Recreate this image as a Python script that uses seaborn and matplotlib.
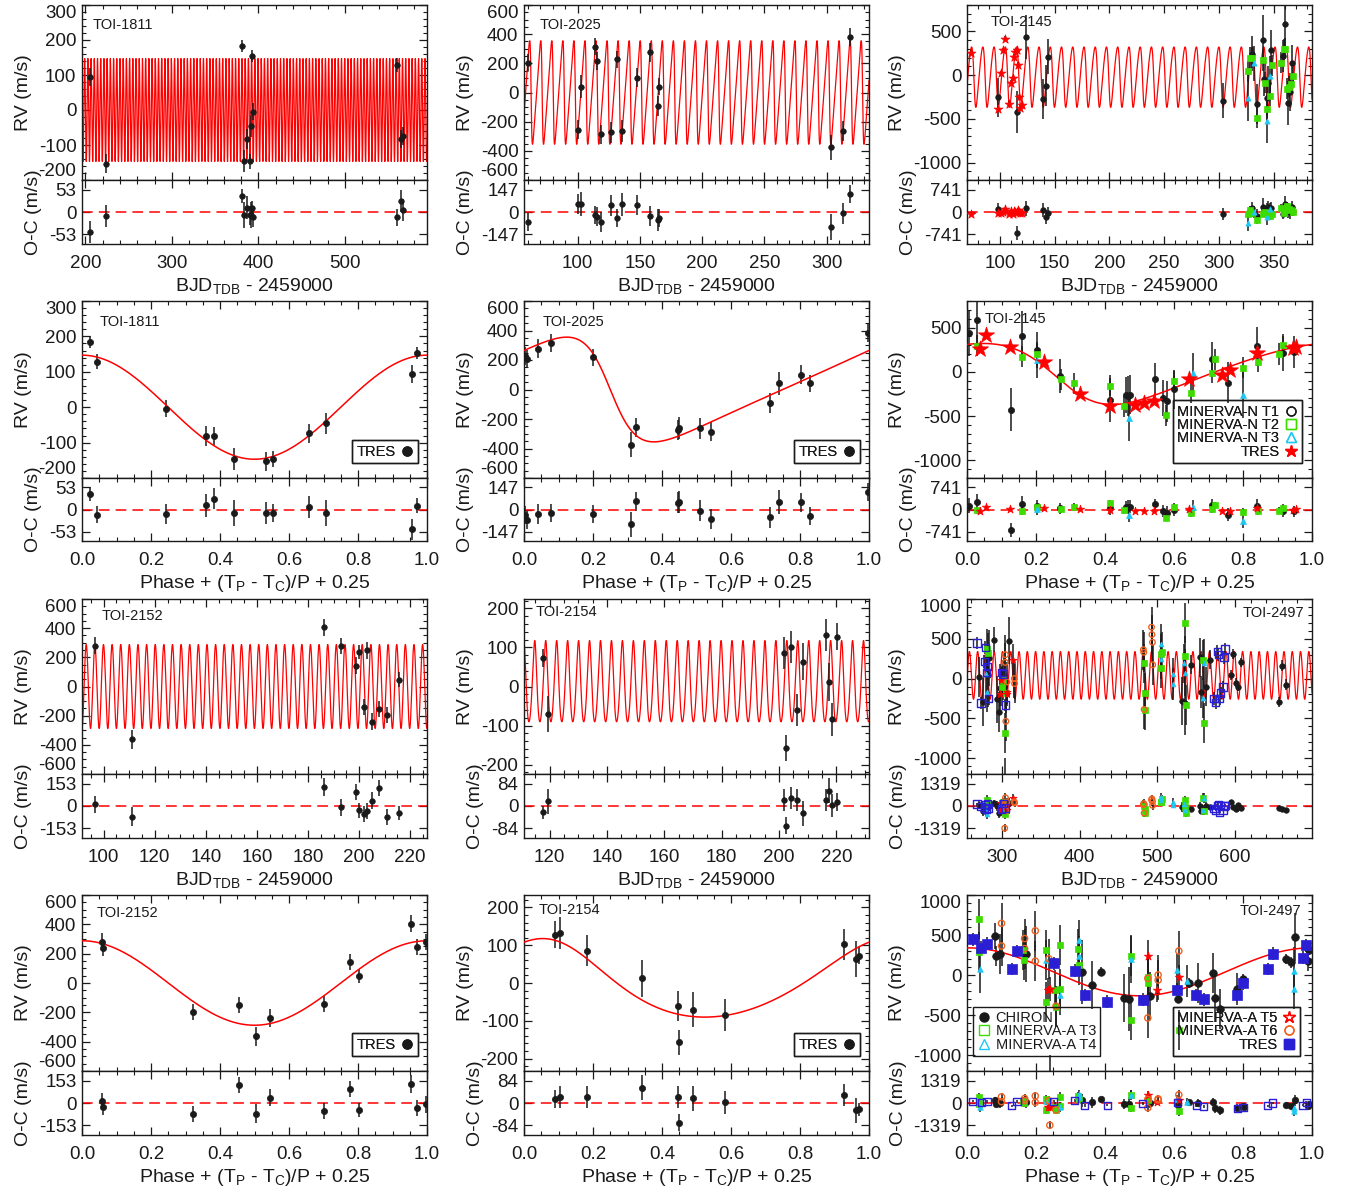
import numpy as np
import matplotlib
matplotlib.use("Agg")
import matplotlib.pyplot as plt
import seaborn as sns
from matplotlib.lines import Line2D
from matplotlib.ticker import AutoMinorLocator, NullLocator

# ------------------------------------------------------------------ data
# TOI-1811 (TRES)
toi1811_time = [205.8, 223.5, 381.5, 383.8, 386.9, 390.8, 391.9, 393.0, 394.2, 560.0, 565.0, 567.3]
toi1811_phase = [0.956, 0.533, 0.022, 0.442, 0.358, 0.553, 0.708, 0.970, 0.243, 0.044, 0.382, 0.659]
toi1811_rv = [94, -153, 183, -145, -82, -147, -46, 154, -5, 129, -82, -74]
toi1811_err = [25, 26, 17, 31, 28, 22, 31, 17, 24, 20, 26, 26]

# TOI-2025 (TRES)
toi2025_time = [60.1, 100.5, 102.4, 114.2, 115.3, 118.7, 126.5, 131.6, 135.3, 147.7, 158.4, 164.8, 165.6, 303.5, 312.9, 318.7]
toi2025_phase = [0.008, 0.324, 0.739, 0.079, 0.199, 0.542, 0.445, 0.003, 0.449, 0.802, 0.041, 0.713, 0.829, 0.310, 0.509, 0.998]
toi2025_rv = [205, -256, 41, 315, 217, -285, -274, 228, -263, 101, 277, -91, 41, -375, -263, 382]
toi2025_err = [60, 65, 80, 60, 60, 65, 70, 60, 75, 65, 65, 70, 60, 85, 70, 60]

# TOI-2145 (MINERVA-N T1/T2/T3, TRES)
toi2145_t1_time = [124.3, 360.0, 115.2, 340.4, 330.4, 341.6, 363.0, 343.8, 139.5, 98.5, 344.5, 303.6, 334.7, 365.0, 366.9, 142.2, 347.7, 144.4, 358.4]
toi2145_t1_phase = [0.005, 0.030, 0.127, 0.160, 0.203, 0.269, 0.415, 0.460, 0.467, 0.473, 0.544, 0.568, 0.580, 0.600, 0.709, 0.756, 0.841, 0.915, 0.949]
toi2145_t1_rv = [434, 585, -426, 404, 245, -49, -321, -264, -275, -257, -87, -294, -332, -196, 140, -121, 290, 208, 219]
toi2145_t1_err = [250, 260, 240, 280, 200, 190, 250, 200, 230, 220, 190, 200, 230, 220, 200, 230, 220, 200, 180]

toi2145_t2_time = [359.0, 340.1, 328.0, 341.9, 364.4, 362.3, 343.5, 335.0, 365.5, 346.2, 367.5, 356.8, 326.7, 348.6, 330.4, 360.5]
toi2145_t2_phase = [0.030, 0.160, 0.203, 0.272, 0.311, 0.415, 0.454, 0.577, 0.600, 0.648, 0.711, 0.720, 0.800, 0.843, 0.903, 0.915]
toi2145_t2_rv = [294, 170, 196, -87, -132, -158, -389, -490, -106, -238, -11, 140, 45, 113, 200, 302]
toi2145_t2_err = [120, 120, 120, 120, 120, 120, 120, 120, 120, 120, 120, 120, 120, 120, 120, 120]

toi2145_t3_time = [331.6, 343.8, 346.2, 326.7]
toi2145_t3_phase = [0.203, 0.471, 0.656, 0.800]
toi2145_t3_rv = [132, -521, -8, -264]
toi2145_t3_err = [200, 260, 220, 260]

toi2145_tres_time = [73.6, 104.9, 103.3, 116.4, 117.3, 97.9, 118.5, 119.8, 108.5, 110.0, 111.6, 100.9, 112.5, 114.0, 115.2]
toi2145_tres_phase = [0.039, 0.056, 0.124, 0.223, 0.328, 0.415, 0.486, 0.514, 0.542, 0.644, 0.738, 0.763, 0.841, 0.944, 0.954]
toi2145_tres_rv = [257, 415, 283, 113, -253, -389, -377, -347, -332, -87, -38, 19, 208, 264, 283]
toi2145_tres_err = [30, 30, 30, 30, 30, 30, 30, 30, 30, 30, 30, 30, 30, 30, 30]

# TOI-2152 (TRES)
toi2152_time = [96.4, 111.2, 186.1, 193.0, 198.9, 199.9, 202.0, 203.0, 204.9, 207.8, 210.8, 215.8]
toi2152_phase = [0.058, 0.505, 0.955, 0.998, 0.777, 0.062, 0.700, 0.970, 0.544, 0.456, 0.322, 0.804]
toi2152_rv = [280, -362, 405, 278, 144, 236, -142, 247, -240, -152, -198, 47]
toi2152_err = [60, 65, 60, 55, 55, 50, 55, 55, 60, 55, 55, 50]

# TOI-2154 (TRES)
toi2154_time = [117.5, 119.5, 201.6, 202.5, 204.3, 206.3, 208.3, 216.5, 217.4, 218.4, 220.2]
toi2154_phase = [0.971, 0.489, 0.184, 0.449, 0.927, 0.445, 0.962, 0.103, 0.343, 0.582, 0.089]
toi2154_rv = [72, -71, 86, -157, 102, -60, 64, 132, 12, -84, 128]
toi2154_err = [23, 46, 41, 33, 41, 40, 47, 42, 48, 42, 35]

# TOI-2497 (CHIRON, MINERVA-A T3/T4/T5/T6, TRES)
toi2497_chiron_time = [289.7, 567.5, 554.6, 283.0, 281.6, 298.0, 594.5, 531.5, 535.7, 293.6, 656.6, 604.3, 563.2, 270.0, 275.0, 296.6, 556.0, 600.9, 665.2, 607.3, 660.9, 309.4, 543.9, 597.5]
toi2497_chiron_phase = [0.080, 0.085, 0.095, 0.171, 0.333, 0.362, 0.388, 0.454, 0.469, 0.529, 0.612, 0.644, 0.669, 0.713, 0.718, 0.734, 0.782, 0.799, 0.802, 0.926, 0.940, 0.950, 0.988, 0.992]
toi2497_chiron_rv = [490, 237, 266, 258, 42, -123, 42, -283, -304, -262, -296, -101, -101, 21, -291, -422, -169, -51, -80, 203, 160, 477, 173, 308]
toi2497_chiron_err = [160, 120, 250, 350, 400, 300, 60, 300, 400, 300, 60, 60, 250, 250, 300, 250, 200, 60, 70, 60, 70, 300, 120, 60]

toi2497_tres_time = [267.9, 577.3, 278.6, 280.3, 578.6, 281.6, 302.1, 282.9, 304.3, 273.0, 581.6, 573.0, 575.0, 580.0, 584.6, 299.6, 585.9, 277.3, 587.2]
toi2497_tres_phase = [0.017, 0.041, 0.058, 0.130, 0.145, 0.251, 0.312, 0.341, 0.406, 0.510, 0.609, 0.664, 0.686, 0.783, 0.800, 0.872, 0.886, 0.974, 0.984]
toi2497_tres_rv = [448, 342, 393, 76, 300, 148, 55, -249, -334, -308, -182, -249, -304, -249, -106, 76, 266, 215, 372]
toi2497_tres_err = [80, 80, 80, 80, 80, 80, 80, 80, 80, 80, 80, 80, 80, 80, 80, 80, 80, 80, 80]

toi2497_t3_time = [535.0, 535.5, 281.6, 483.0, 505.0, 537.0, 305.0, 483.5, 281.0, 484.0, 505.5, 505.2, 559.0, 559.7, 300.0, 301.0, 304.3]
toi2497_t3_phase = [0.036, 0.036, 0.162, 0.164, 0.230, 0.230, 0.256, 0.259, 0.270, 0.270, 0.321, 0.324, 0.474, 0.474, 0.525, 0.525, 0.615]
toi2497_t3_rv = [697, 287, 317, 190, 308, -334, -186, -397, 372, -177, 330, 131, 232, -558, -101, -21, -684]
toi2497_t3_err = [250, 250, 250, 250, 250, 250, 250, 250, 250, 250, 250, 250, 250, 250, 250, 250, 250]

toi2497_t4_time = [535.7, 534.5, 559.0, 504.5, 504.8, 560.0, 519.5, 519.8, 280.0, 281.0]
toi2497_t4_phase = [0.037, 0.230, 0.270, 0.324, 0.324, 0.474, 0.610, 0.638, 0.947, 0.947]
toi2497_t4_rv = [76, 190, -249, 435, 241, 199, 63, -72, 55, -169]
toi2497_t4_err = [300, 250, 250, 250, 250, 300, 200, 200, 300, 250]

toi2497_t5_time = [297.9, 307.0, 313.7, 306.0, 299.0]
toi2497_t5_phase = [0.234, 0.240, 0.524, 0.551, 0.614]
toi2497_t5_rv = [-190, -169, 232, -190, -21]
toi2497_t5_err = [150, 150, 200, 150, 150]

toi2497_t6_time = [492.5, 482.0, 493.7, 482.5, 493.0, 493.9, 304.3, 483.0, 306.4, 305.0, 315.9, 316.2, 304.5, 303.5]
toi2497_t6_phase = [0.100, 0.100, 0.167, 0.167, 0.198, 0.198, 0.237, 0.258, 0.524, 0.524, 0.554, 0.554, 0.614, 0.240]
toi2497_t6_rv = [646, 363, 456, 330, 553, 173, 203, -389, -42, -537, 0, -63, 300, -1250]
toi2497_t6_err = [250, 250, 250, 250, 250, 250, 250, 250, 250, 250, 250, 250, 250, 250]

# Keplerian orbit solutions: period [d], semi-amplitude [m/s], e, omega [deg],
# systemic offset [m/s], transit epoch [BJD_TDB - 2459000]
orbit_1811 = dict(P=3.7130, K=147.0, e=0.0, w=90.0, gamma=0.0, tc=200.0)
orbit_2025 = dict(P=8.872, K=355.0, e=0.40, w=90.0, gamma=0.0, tc=62.7)
orbit_2145 = dict(P=10.261, K=345.0, e=0.21, w=110.0, gamma=0.0, tc=76.3)
orbit_2152 = dict(P=3.3774, K=288.0, e=0.0, w=90.0, gamma=0.0, tc=94.0)
orbit_2154 = dict(P=3.8246, K=104.0, e=0.14, w=20.0, gamma=0.0, tc=115.5)
orbit_2497 = dict(P=10.656, K=300.0, e=0.0, w=90.0, gamma=40.0, tc=260.7)


# ------------------------------------------------------------------ model
def kepler_rv(x, orb):
    """RV at x = (t - Tc)/P + 0.25 (transit at x = 0.25)."""
    x = np.asarray(x, dtype=float)
    e, w = orb["e"], np.radians(orb["w"])
    nu_t = np.pi / 2 - w
    E_t = 2 * np.arctan(np.sqrt((1 - e) / (1 + e)) * np.tan(nu_t / 2))
    M_t = E_t - e * np.sin(E_t)
    M = M_t + 2 * np.pi * (x - 0.25)
    E = M + e * np.sin(M)
    for _ in range(40):
        E = E - (E - e * np.sin(E) - M) / (1 - e * np.cos(E))
    nu = 2 * np.arctan2(np.sqrt(1 + e) * np.sin(E / 2), np.sqrt(1 - e) * np.cos(E / 2))
    return orb["gamma"] + orb["K"] * (np.cos(nu + w) + e * np.cos(w))


# ------------------------------------------------------------------ style
sns.set_theme(style="ticks", rc={
    "axes.edgecolor": "k", "axes.linewidth": 1.0,
    "xtick.color": "k", "ytick.color": "k",
    "text.color": "k", "axes.labelcolor": "k",
    "figure.facecolor": "white", "axes.facecolor": "white",
})
plt.rcParams["font.family"] = ["Liberation Sans", "DejaVu Sans"]
plt.rcParams["mathtext.fontset"] = "custom"
plt.rcParams["mathtext.rm"] = "Liberation Sans"
plt.rcParams["mathtext.it"] = "Liberation Sans:italic"
plt.rcParams["mathtext.bf"] = "Liberation Sans:bold"

GREEN = "#3ddc00"
CYAN = "#1ec8f5"
BLUE = "#2b1fd6"
ORANGE = "#f2601e"
RED = "#ff0000"


def mk(marker, color, s, hollow=False):
    return dict(marker=marker, color=color, s=s, hollow=hollow)


def scatter(ax, x, y, st, z=4):
    if st["hollow"]:
        sns.scatterplot(x=x, y=y, ax=ax, marker=st["marker"], s=st["s"], color=st["color"],
                        facecolor="none", edgecolor=st["color"], linewidth=1.0,
                        legend=False, zorder=z)
    else:
        sns.scatterplot(x=x, y=y, ax=ax, marker=st["marker"], s=st["s"], color=st["color"],
                        edgecolor=st["color"], linewidth=0.5, legend=False, zorder=z)


def series(label, time, phase, rv, err, st_time, st_phase, st_ocp=None):
    return dict(label=label, time=np.array(time, float), phase=np.array(phase, float),
                rv=np.array(rv, float), err=np.array(err, float),
                st_time=st_time, st_phase=st_phase, st_ocp=st_ocp or st_phase)


BLACK_T = mk("o", "k", 16)
BLACK_P = mk("o", "k", 20)

tres_legend = dict(boxes=[dict(items=[("TRES", dict(marker="o", color="k", mfc="k", ms=6.5))],
                               loc="lower right", anchor=(-9, 15), markerfirst=False)])

targets = [
    dict(name="TOI-1811", orbit=orbit_1811,
         sets=[series("TRES", toi1811_time, toi1811_phase, toi1811_rv, toi1811_err, BLACK_T, BLACK_P)],
         tlim=(196, 595), tticks=[200, 300, 400, 500],
         rvlim=(-200, 300), rvlim_p=(-200, 300), rvticks=[-200, -100, 0, 100, 200, 300], octick=53,
         lab_t=(11, 20, "left"), lab_p=(18, 21, "left"), legend=tres_legend),
    dict(name="TOI-2025", orbit=orbit_2025,
         sets=[series("TRES", toi2025_time, toi2025_phase, toi2025_rv, toi2025_err, BLACK_T, BLACK_P)],
         tlim=(57, 334), tticks=[100, 150, 200, 250, 300],
         rvlim=(-600, 600), rvlim_p=(-600, 600), rvticks=[-600, -400, -200, 0, 200, 400, 600], octick=147,
         lab_t=(16, 20, "left"), lab_p=(19, 21, "left"), legend=tres_legend),
    dict(name="TOI-2145", orbit=orbit_2145,
         sets=[series("MINERVA-N T1", toi2145_t1_time, toi2145_t1_phase, toi2145_t1_rv, toi2145_t1_err,
                      mk("o", "k", 16), mk("o", "k", 20)),
               series("MINERVA-N T2", toi2145_t2_time, toi2145_t2_phase, toi2145_t2_rv, toi2145_t2_err,
                      mk("s", GREEN, 18), mk("s", GREEN, 24)),
               series("MINERVA-N T3", toi2145_t3_time, toi2145_t3_phase, toi2145_t3_rv, toi2145_t3_err,
                      mk("^", CYAN, 14), mk("^", CYAN, 18)),
               series("TRES", toi2145_tres_time, toi2145_tres_phase, toi2145_tres_rv, toi2145_tres_err,
                      mk("*", RED, 45), mk("*", RED, 150), mk("*", RED, 40))],
         tlim=(70, 385), tticks=[100, 150, 200, 250, 300, 350],
         rvlim=(-1200, 800), rvlim_p=(-1200, 800), rvticks=[-1000, -500, 0, 500], octick=741,
         lab_t=(24, 17, "left"), lab_p=(18, 18, "left"),
         legend=dict(boxes=[dict(items=[
             ("MINERVA-N T1", dict(marker="o", color="k", mfc="none", ms=6.5)),
             ("MINERVA-N T2", dict(marker="s", color=GREEN, mfc="none", ms=6.5)),
             ("MINERVA-N T3", dict(marker="^", color=CYAN, mfc="none", ms=6.5)),
             ("TRES", dict(marker="*", color=RED, mfc=RED, ms=9))],
             loc="lower right", anchor=(-10, 15), markerfirst=False)])),
    dict(name="TOI-2152", orbit=orbit_2152,
         sets=[series("TRES", toi2152_time, toi2152_phase, toi2152_rv, toi2152_err, BLACK_T, BLACK_P)],
         tlim=(91.5, 226.6), tticks=[100, 120, 140, 160, 180, 200, 220],
         rvlim=(-600, 600), rvlim_p=(-600, 600), rvticks=[-600, -400, -200, 0, 200, 400, 600], octick=153,
         lab_t=(20, 17, "left"), lab_p=(15, 18, "left"), legend=tres_legend),
    dict(name="TOI-2154", orbit=orbit_2154,
         sets=[series("TRES", toi2154_time, toi2154_phase, toi2154_rv, toi2154_err, BLACK_T, BLACK_P)],
         tlim=(111, 231.4), tticks=[120, 140, 160, 180, 200, 220],
         rvlim=(-224, 224), rvlim_p=(-233, 233), rvticks=[-200, -100, 0, 100, 200], octick=84,
         lab_t=(12, 13, "left"), lab_p=(15, 15, "left"), legend=tres_legend),
    dict(name="TOI-2497", orbit=orbit_2497,
         sets=[series("CHIRON", toi2497_chiron_time, toi2497_chiron_phase, toi2497_chiron_rv, toi2497_chiron_err,
                      mk("o", "k", 16), mk("o", "k", 30), mk("o", "k", 22)),
               series("MINERVA-A T3", toi2497_t3_time, toi2497_t3_phase, toi2497_t3_rv, toi2497_t3_err,
                      mk("s", GREEN, 16), mk("s", GREEN, 20)),
               series("MINERVA-A T4", toi2497_t4_time, toi2497_t4_phase, toi2497_t4_rv, toi2497_t4_err,
                      mk("^", CYAN, 12), mk("^", CYAN, 16)),
               series("MINERVA-A T5", toi2497_t5_time, toi2497_t5_phase, toi2497_t5_rv, toi2497_t5_err,
                      mk("*", RED, 30), mk("*", RED, 40)),
               series("MINERVA-A T6", toi2497_t6_time, toi2497_t6_phase, toi2497_t6_rv, toi2497_t6_err,
                      mk("o", ORANGE, 16, True), mk("o", ORANGE, 20, True)),
               series("TRES", toi2497_tres_time, toi2497_tres_phase, toi2497_tres_rv, toi2497_tres_err,
                      mk("s", BLUE, 28, True), mk("s", BLUE, 60), mk("s", BLUE, 26, True))],
         tlim=(255, 699), tticks=[300, 400, 500, 600],
         rvlim=(-1200, 1000), rvlim_p=(-1200, 1000), rvticks=[-1000, -500, 0, 500, 1000], octick=1319,
         lab_t=(-8, 14, "right"), lab_p=(-11, 16, "right"),
         legend=dict(boxes=[
             dict(items=[("CHIRON", dict(marker="o", color="k", mfc="k", ms=6.5)),
                         ("MINERVA-A T3", dict(marker="s", color=GREEN, mfc="none", ms=6.5)),
                         ("MINERVA-A T4", dict(marker="^", color=CYAN, mfc="none", ms=6.5))],
                  loc="lower left", anchor=(6, 15), markerfirst=True),
             dict(items=[("MINERVA-A T5", dict(marker="*", color=RED, mfc="none", ms=9)),
                         ("MINERVA-A T6", dict(marker="o", color=ORANGE, mfc="none", ms=6.5)),
                         ("TRES", dict(marker="s", color=BLUE, mfc=BLUE, ms=6.5))],
                  loc="lower right", anchor=(-12, 15), markerfirst=False)])),
]

# ------------------------------------------------------------------ layout (pixels)
W, H = 1353, 1188
COL_LEFT = [82, 524, 967]
COL_W = 345
ROW_TOP = [5, 301, 599, 895]
ROW_MID = [180, 478, 774, 1071]
ROW_BOT = [244, 541, 838, 1135]

fig = plt.figure(figsize=(W / 100, H / 100), dpi=100)


def add_axes(left, top, bottom):
    return fig.add_axes([left / W, 1 - bottom / H, COL_W / W, (bottom - top) / H])


TICK_FS = 13.5
LABEL_FS = 14
XLAB_TIME = r"BJD$_{\mathrm{TDB}}$ - 2459000"
XLAB_PHASE = r"Phase + (T$_{\mathrm{P}}$ - T$_{\mathrm{C}}$)/P + 0.25"


def frame(ax):
    ax.tick_params(which="both", direction="in", top=True, right=True, bottom=True, left=True,
                   labelsize=TICK_FS)
    ax.tick_params(which="major", length=5.5, width=0.9)
    ax.tick_params(which="minor", length=2.8, width=0.8)
    ax.tick_params(axis="x", pad=8)
    ax.tick_params(axis="y", pad=4)
    ax.grid(False)


def set_rv_yaxis(ax, lim, ticks):
    ax.set_ylim(lim)
    ax.set_yticks(ticks, labels=[str(v) for v in ticks])
    ax.yaxis.set_minor_locator(AutoMinorLocator())
    for tk, v in zip(ax.yaxis.get_major_ticks(), ticks):
        if v == lim[1]:
            tk.label1.set_va("top")
        elif v == lim[0]:
            tk.label1.set_va("bottom")
    ax.set_ylabel("RV (m/s)", fontsize=LABEL_FS, labelpad=5)


def set_oc_yaxis(ax, tick):
    ax.set_ylim(-tick / 0.7, tick / 0.7)
    ax.set_yticks([-tick, 0, tick], labels=[f"-{tick}", "0", f"{tick}"])
    ax.yaxis.set_minor_locator(NullLocator())
    ax.set_ylabel("O-C (m/s)", fontsize=LABEL_FS, labelpad=5)
    ax.axhline(0, color=RED, lw=1.1, ls=(0, (7, 4)), zorder=1)


def set_xaxis(ax_rv, ax_oc, lim, ticks, fmt, xlabel):
    for ax in (ax_rv, ax_oc):
        ax.set_xlim(lim)
        ax.set_xticks(ticks, labels=[fmt(v) for v in ticks])
        ax.xaxis.set_minor_locator(AutoMinorLocator())
    ax_rv.tick_params(labelbottom=False)
    ax_oc.set_xlabel(xlabel, fontsize=LABEL_FS, labelpad=3)


def name_label(ax, name, spec):
    dx, dy, ha = spec
    x0 = 0 if ha == "left" else 1
    ax.annotate(name, xy=(x0, 1), xycoords="axes fraction", xytext=(dx * 0.72, -dy * 0.72),
                textcoords="offset points", ha=ha, va="center", fontsize=10.5)


def draw_legend(ax, box):
    handles, labels = [], []
    for lab, kw in box["items"]:
        handles.append(Line2D([], [], ls="none", marker=kw["marker"], color=kw["color"],
                              markerfacecolor=kw["mfc"], markeredgecolor=kw["color"],
                              markersize=kw["ms"], markeredgewidth=1.0))
        labels.append(lab)
    ax_w = COL_W
    ax_h = ROW_MID[1] - ROW_TOP[1]
    dx, dy = box["anchor"]
    ax0 = 0 if "left" in box["loc"] else 1
    leg = ax.legend(handles, labels, loc=box["loc"], bbox_to_anchor=(ax0 + dx / ax_w, dy / ax_h),
                    borderaxespad=0, markerfirst=box["markerfirst"], frameon=True, fancybox=False,
                    edgecolor="k", framealpha=1, fontsize=10.5, handlelength=0.9, handletextpad=0.35,
                    labelspacing=-0.05, borderpad=0.3)
    leg.get_frame().set_facecolor("none")
    leg.get_frame().set_linewidth(1.0)
    ax.add_artist(leg)


for i, tg in enumerate(targets):
    col = i % 3
    blk = i // 3
    left = COL_LEFT[col]
    orb = tg["orbit"]

    # ---- RV vs time
    r = 2 * blk
    ax_rv = add_axes(left, ROW_TOP[r], ROW_MID[r])
    ax_oc = add_axes(left, ROW_MID[r], ROW_BOT[r])
    tgrid = np.linspace(tg["tlim"][0], tg["tlim"][1], 40000)
    sns.lineplot(x=tgrid, y=kepler_rv((tgrid - orb["tc"]) / orb["P"] + 0.25, orb), ax=ax_rv,
                 color=RED, linewidth=0.9, estimator=None, sort=False, legend=False, zorder=1)
    for s in tg["sets"]:
        oc = s["rv"] - kepler_rv(s["phase"], orb)
        for ax, yy in ((ax_rv, s["rv"]), (ax_oc, oc)):
            ax.errorbar(s["time"], yy, yerr=s["err"], fmt="none", ecolor="k", elinewidth=1.1,
                        capsize=0, zorder=2)
        scatter(ax_rv, s["time"], s["rv"], s["st_time"])
        scatter(ax_oc, s["time"], oc, s["st_time"])
    for ax in (ax_rv, ax_oc):
        frame(ax)
    set_rv_yaxis(ax_rv, tg["rvlim"], tg["rvticks"])
    set_oc_yaxis(ax_oc, tg["octick"])
    set_xaxis(ax_rv, ax_oc, tg["tlim"], tg["tticks"], lambda v: f"{v:d}", XLAB_TIME)
    name_label(ax_rv, tg["name"], tg["lab_t"])

    # ---- RV vs orbital phase
    r = 2 * blk + 1
    ax_rv = add_axes(left, ROW_TOP[r], ROW_MID[r])
    ax_oc = add_axes(left, ROW_MID[r], ROW_BOT[r])
    pgrid = np.linspace(0, 1, 1000)
    sns.lineplot(x=pgrid, y=kepler_rv(pgrid, orb), ax=ax_rv, color=RED, linewidth=1.1,
                 estimator=None, sort=False, legend=False, zorder=3)
    for s in tg["sets"]:
        oc = s["rv"] - kepler_rv(s["phase"], orb)
        for ax, yy in ((ax_rv, s["rv"]), (ax_oc, oc)):
            ax.errorbar(s["phase"], yy, yerr=s["err"], fmt="none", ecolor="k", elinewidth=1.1,
                        capsize=0, zorder=2)
        scatter(ax_rv, s["phase"], s["rv"], s["st_phase"])
        scatter(ax_oc, s["phase"], oc, s["st_ocp"])
    for ax in (ax_rv, ax_oc):
        frame(ax)
    set_rv_yaxis(ax_rv, tg["rvlim_p"], tg["rvticks"])
    set_oc_yaxis(ax_oc, tg["octick"])
    set_xaxis(ax_rv, ax_oc, (0, 1), [0.0, 0.2, 0.4, 0.6, 0.8, 1.0], lambda v: f"{v:.1f}", XLAB_PHASE)
    name_label(ax_rv, tg["name"], tg["lab_p"])
    for box in tg["legend"]["boxes"]:
        draw_legend(ax_rv, box)

fig.savefig("out.png", dpi=100)
